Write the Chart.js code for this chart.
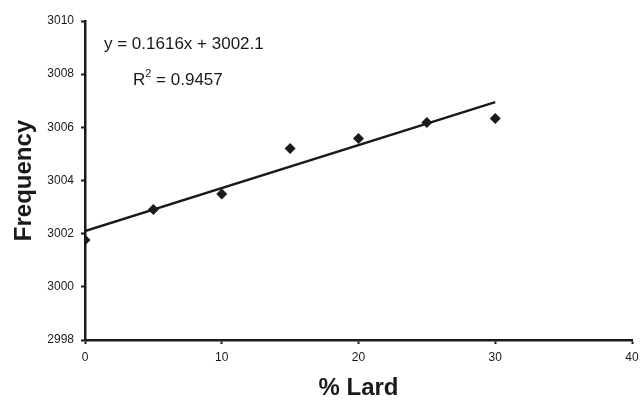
<!DOCTYPE html>
<html>
<head>
<meta charset="utf-8">
<script src="https://cdn.jsdelivr.net/npm/chart.js@4/dist/chart.umd.min.js"></script>
<style>
  html, body { margin: 0; padding: 0; background: #fff; }
  #wrap { width: 641px; height: 400px; }
</style>
</head>
<body>
<div id="wrap"><canvas id="chart" width="641" height="400"></canvas></div>
<script>
const lardPct = [0, 5, 10, 15, 20, 25, 30];
const frequency = [3001.76, 3002.91, 3003.49, 3005.2, 3005.58, 3006.18, 3006.33];

// fitted line end points (y = 0.1616x + 3002.1)
const trendX = [0, 30];
const trendY = [3002.1, 3006.95];

const xTicks = [0, 10, 20, 30, 40];
const yTicks = [2998, 3000, 3002, 3004, 3006, 3008, 3010];

const equationText = 'y = 0.1616x + 3002.1';
const rSquaredText = '0.9457';

const font = "'Liberation Sans', Arial, sans-serif";
const ink = '#1a1a1a';

const labelsPlugin = {
    id: 'fitLabels',
    afterDraw(chart) {
        const { ctx, chartArea } = chart;
        ctx.save();
        ctx.fillStyle = ink;
        ctx.textBaseline = 'middle';
        ctx.textAlign = 'left';
        ctx.font = `17px ${font}`;
        ctx.fillText(equationText, chartArea.left + 19, chartArea.top + 23);

        // R² with raised 2
        let x = chartArea.left + 48;
        const y = chartArea.top + 59;
        ctx.fillText('R', x, y);
        x += ctx.measureText('R').width;
        ctx.font = `11px ${font}`;
        ctx.fillText('2', x, y - 6);
        x += ctx.measureText('2').width;
        ctx.font = `17px ${font}`;
        ctx.fillText(' = ' + rSquaredText, x, y);
        ctx.restore();
    }
};

new Chart(document.getElementById('chart'), {
    type: 'scatter',
    data: {
        datasets: [
            {
                label: 'Frequency',
                data: lardPct.map((x, i) => ({ x, y: frequency[i] })),
                pointStyle: 'rectRot',
                pointRadius: 5.5,
                backgroundColor: ink,
                borderColor: ink,
                borderWidth: 0,
                showLine: false
            },
            {
                label: 'Linear fit',
                data: trendX.map((x, i) => ({ x, y: trendY[i] })),
                showLine: true,
                pointRadius: 0,
                borderColor: ink,
                borderWidth: 2.5,
                fill: false
            }
        ]
    },
    options: {
        responsive: false,
        animation: false,
        layout: { padding: { top: 21, right: 9, bottom: 0, left: 0 } },
        plugins: {
            legend: { display: false },
            tooltip: { enabled: false }
        },
        scales: {
            x: {
                type: 'linear',
                min: 0,
                max: 40,
                afterBuildTicks: scale => { scale.ticks = xTicks.map(v => ({ value: v })); },
                afterFit: scale => {
                    scale.height = 60;
                    scale.paddingLeft = 0;
                    scale.paddingRight = 0;
                },
                grid: {
                    drawOnChartArea: false,
                    drawTicks: true,
                    tickLength: 4,
                    tickWidth: 2,
                    tickColor: ink
                },
                border: { color: ink, width: 2.5 },
                ticks: {
                    color: ink,
                    font: { family: font, size: 12 },
                    padding: 6,
                    callback: v => String(v)
                },
                title: {
                    display: true,
                    text: '% Lard',
                    color: ink,
                    font: { family: font, size: 24, weight: 'bold', lineHeight: 1 },
                    padding: { top: 0, bottom: 0 }
                }
            },
            y: {
                type: 'linear',
                min: 2998,
                max: 3010,
                afterBuildTicks: scale => { scale.ticks = yTicks.map(v => ({ value: v })); },
                afterFit: scale => { scale.width = 85; },
                grid: {
                    drawOnChartArea: false,
                    drawTicks: true,
                    tickLength: 4,
                    tickWidth: 2,
                    tickColor: ink
                },
                border: { color: ink, width: 2.5 },
                ticks: {
                    color: ink,
                    font: { family: font, size: 12 },
                    padding: 7,
                    callback: v => String(v)
                },
                title: {
                    display: true,
                    text: 'Frequency',
                    color: ink,
                    font: { family: font, size: 24, weight: 'bold', lineHeight: 1 },
                    padding: { top: 12, bottom: 0 }
                }
            }
        }
    },
    plugins: [labelsPlugin]
});
</script>
</body>
</html>
